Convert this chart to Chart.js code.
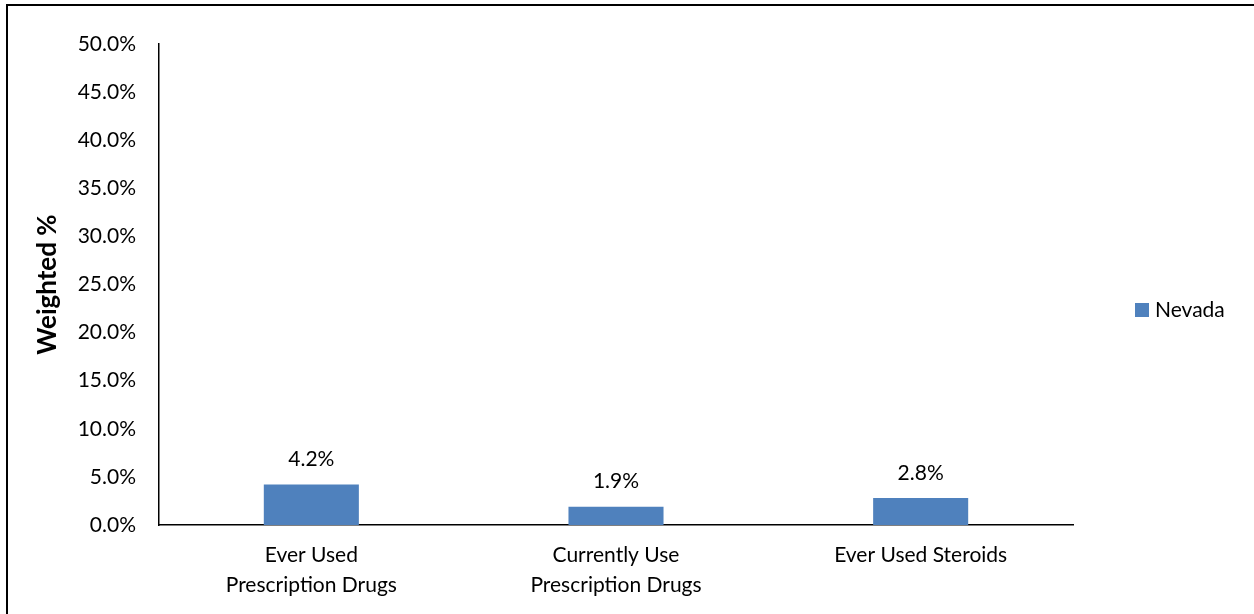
<!DOCTYPE html>
<html>
<head>
<meta charset="utf-8">
<script src="https://cdn.jsdelivr.net/npm/chart.js@4/dist/chart.umd.min.js"></script>
<style>
  html, body { margin: 0; padding: 0; background: #fff; }
  #wrap { width: 1254px; height: 614px; }
</style>
</head>
<body>
<div id="wrap"><canvas id="usageChart" width="1254" height="614"></canvas></div>
<script>
const categories = [
  ['Ever Used', 'Prescription Drugs'],
  ['Currently Use', 'Prescription Drugs'],
  ['Ever Used Steroids']
];
const seriesName = 'Nevada';
const nevadaValues = [4.2, 1.9, 2.8];
const yTicks = [0, 5, 10, 15, 20, 25, 30, 35, 40, 45, 50];

const FONT = "Lato, 'Open Sans', sans-serif";
const BAR_COLOR = '#4f81bd';

// frame line along the top and left edge of the figure
const framePlugin = {
  id: 'frame',
  afterDraw(chart) {
    const ctx = chart.ctx;
    ctx.save();
    ctx.strokeStyle = '#000';
    ctx.lineWidth = 2;
    ctx.beginPath();
    ctx.moveTo(1254, 5);
    ctx.lineTo(7, 5);
    ctx.lineTo(7, 614);
    ctx.stroke();
    ctx.restore();
  }
};

// value labels above each bar
const valueLabels = {
  id: 'valueLabels',
  afterDatasetsDraw(chart) {
    const ctx = chart.ctx;
    const meta = chart.getDatasetMeta(0);
    ctx.save();
    ctx.fillStyle = '#000';
    ctx.font = '21px ' + FONT;
    ctx.textAlign = 'center';
    ctx.textBaseline = 'middle';
    meta.data.forEach((bar, i) => {
      ctx.fillText(nevadaValues[i].toFixed(1) + '%', bar.x, bar.y - 25);
    });
    ctx.restore();
  }
};

// single-entry legend on the right
const sideLegend = {
  id: 'sideLegend',
  afterDraw(chart) {
    const ctx = chart.ctx;
    const ds = chart.data.datasets[0];
    ctx.save();
    ctx.fillStyle = ds.backgroundColor;
    ctx.fillRect(1135, 303, 14, 14);
    ctx.fillStyle = '#000';
    ctx.font = '21px ' + FONT;
    ctx.textAlign = 'left';
    ctx.textBaseline = 'middle';
    ctx.fillText(ds.label, 1155, 310);
    ctx.restore();
  }
};

new Chart(document.getElementById('usageChart'), {
  type: 'bar',
  data: {
    labels: categories,
    datasets: [{
      label: seriesName,
      data: nevadaValues,
      backgroundColor: BAR_COLOR,
      categoryPercentage: 1,
      barPercentage: 0.312
    }]
  },
  options: {
    responsive: false,
    animation: false,
    layout: { padding: { left: 0, top: 44, right: 181, bottom: 0 } },
    plugins: {
      legend: { display: false },
      tooltip: { enabled: false }
    },
    scales: {
      x: {
        grid: { display: false, drawTicks: false },
        border: { display: true, color: '#000', width: 1.5 },
        ticks: {
          color: '#000',
          font: { family: FONT, size: 21, lineHeight: 1.45 },
          padding: 15,
          maxRotation: 0,
          autoSkip: false
        },
        afterFit(scale) { scale.height = 89; }
      },
      y: {
        min: 0,
        max: 50,
        afterBuildTicks(scale) { scale.ticks = yTicks.map(v => ({ value: v })); },
        grid: { display: false, drawTicks: false },
        border: { display: true, color: '#000', width: 1.5 },
        ticks: {
          color: '#000',
          font: { family: FONT, size: 21 },
          padding: 23,
          callback: v => v.toFixed(1) + '%'
        },
        title: {
          display: true,
          text: 'Weighted %',
          color: '#000',
          font: { family: FONT, size: 26, weight: 'bold' },
          padding: { top: 32, bottom: 0 }
        },
        afterFit(scale) { scale.width = 159; }
      }
    }
  },
  plugins: [framePlugin, valueLabels, sideLegend]
});
</script>
</body>
</html>
